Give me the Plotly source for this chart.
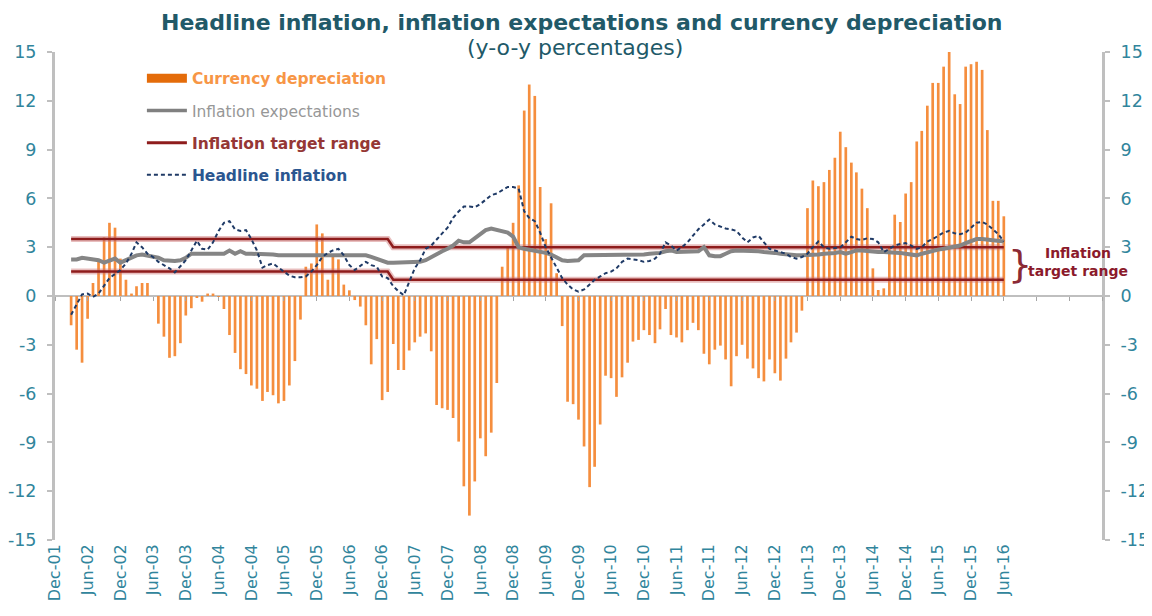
import pandas as pd
import plotly.graph_objects as go

# Monthly observations, Mar-2002 .. Jun-2016
months = pd.date_range("2002-03-01", "2016-06-01", freq="MS")

# x-axis labels every six months, Dec-01 .. Jun-16
label_dates = pd.date_range("2001-12-01", "2016-06-01", freq="6MS")
label_text = [d.strftime("%b-%y") for d in label_dates]

currency_depreciation = [
    -1.8, -3.3, -4.1, -1.4, 0.8, 2.2, 3.6, 4.5, 4.2, 2.3, 1.0, 0.15, 0.6, 0.8, 0.8, 0.0,
    -1.7, -2.5, -3.8, -3.7, -2.9, -1.2, -0.75, -0.1, -0.35, 0.15, 0.15, -0.05, -0.8, -2.4,
    -3.5, -4.5, -4.8, -5.5, -5.7, -6.45, -5.9, -6.1, -6.6, -6.45, -5.5, -4.0,
    -1.45, 1.8, 2.0, 4.4, 3.85, 1.0, 2.45, 2.25, 0.7, 0.35, -0.25, -0.65, -1.8, -4.2, -2.65,
    -6.4, -5.9, -2.95, -4.55, -4.55, -3.35, -2.85, -2.5, -2.3, -3.4, -6.7, -6.9, -7.0, -7.5,
    -8.95, -11.7, -13.5, -11.4, -8.75, -9.85, -8.4, -5.35, 1.8, 3.0, 4.5, 6.8, 11.4, 13.0,
    12.3, 6.7, 3.5, 5.7, 1.4, -1.85, -6.5,
    -6.65, -7.6, -9.25, -11.75, -10.5, -7.9, -4.9, -5.05, -6.2, -5.0, -4.1, -2.8, -2.7, -2.1,
    -2.4, -2.9, -2.05, -0.8, -2.4, -2.55, -2.85, -2.1, -1.65, -2.1, -3.55, -4.2, -3.3, -3.05,
    -3.9, -5.55, -3.7, -3.0, -3.85, -4.45, -5.05, -5.25,
    -3.9, -4.75, -5.2, -3.85, -2.85, -2.25, -0.9,
    5.4, 7.1, 6.75, 7.0, 7.75, 8.5, 10.1, 9.15, 8.2, 7.6, 6.6, 5.4, 1.7, 0.37, 0.47, 3.0,
    5.0, 4.55, 6.3, 7.0, 9.5, 10.15, 11.7, 13.1, 13.1, 14.1, 15.0, 12.4, 11.8, 14.1, 14.25,
    14.4, 13.9, 10.2, 5.85, 5.85, 4.9,
]

headline_inflation = [
    -1.15, -0.5, 0.1, 0.15, -0.05, 0.15, 0.6, 1.1, 1.35, 1.6, 2.0, 2.6, 3.3, 3.0, 2.6, 2.4,
    2.1, 1.9, 1.7, 1.45, 1.8, 2.2, 2.8, 3.4, 2.9, 2.85, 3.3, 4.0, 4.5, 4.6, 4.1, 4.0, 4.05,
    3.5, 2.8, 1.75, 1.9, 2.0, 1.75, 1.5, 1.25, 1.15,
    1.15, 1.2, 1.5, 1.9, 2.4, 2.65, 2.8, 2.9, 2.5, 1.9, 1.6, 1.85, 2.1, 1.9, 1.8, 1.2, 1.1,
    0.6, 0.3, 0.05, 0.9, 1.7, 2.2, 2.9, 3.1, 3.5, 3.85, 4.2, 4.8, 5.2, 5.5, 5.5, 5.45, 5.65,
    5.9, 6.2, 6.3, 6.5, 6.7, 6.7, 6.6, 5.2, 4.8, 4.6, 3.9, 3.0, 2.4, 1.8, 1.1, 0.7,
    0.4, 0.27, 0.4, 0.7, 1.0, 1.2, 1.4, 1.5, 1.7, 2.1, 2.3, 2.25, 2.2, 2.1, 2.15, 2.3, 2.6,
    3.3, 3.1, 2.8, 3.0, 3.3, 3.7, 4.1, 4.4, 4.7, 4.4, 4.25, 4.15, 4.1, 4.0, 3.6, 3.3, 3.6,
    3.7, 3.3,
    2.9, 2.8, 2.7, 2.6, 2.4, 2.3, 2.4, 2.6, 3.0, 3.35, 3.0, 2.9, 2.95, 3.0, 3.3, 3.65, 3.5,
    3.45, 3.55, 3.5, 3.3, 2.7, 2.9, 3.1, 3.2, 3.25, 3.1, 2.9, 3.0, 3.35, 3.5, 3.7, 3.9, 4.0,
    3.85, 3.8, 3.9, 4.2, 4.5, 4.55, 4.4, 4.1, 3.8, 3.35,
]

inflation_expectations = [
    2.25, 2.25, 2.35, 2.3, 2.3, 2.2, 2.05, 2.2, 2.3, 2.05, 2.2, 2.35, 2.5, 2.55, 2.5, 2.45,
    2.35, 2.2, 2.15, 2.15, 2.2, 2.35, 2.6, 2.6, 2.6, 2.6, 2.6, 2.65, 2.6, 2.8, 2.6, 2.75,
    2.6, 2.6, 2.6, 2.55, 2.55, 2.55, 2.5, 2.5, 2.5, 2.5,
    2.5, 2.5, 2.5, 2.5, 2.5, 2.5, 2.5, 2.5, 2.5, 2.5, 2.5, 2.5, 2.5, 2.4, 2.3, 2.15, 2.05,
    2.05, 2.05, 2.05, 2.05, 2.05, 2.1, 2.2, 2.4, 2.6, 2.75, 2.9, 3.1, 3.4, 3.3, 3.3, 3.55,
    3.75, 4.05, 4.15, 4.05, 3.95, 3.9, 3.65, 3.0, 2.9, 2.85, 2.8, 2.75, 2.65, 2.55, 2.4,
    2.2, 2.15,
    2.15, 2.2, 2.5, 2.5, 2.5, 2.5, 2.5, 2.5, 2.5, 2.5, 2.5, 2.55, 2.55, 2.55, 2.6, 2.6, 2.65,
    2.75, 2.8, 2.7, 2.7, 2.7, 2.7, 2.75, 3.0, 2.5, 2.45, 2.45, 2.6, 2.75, 2.8, 2.8, 2.8, 2.8,
    2.75, 2.7,
    2.7, 2.65, 2.6, 2.55, 2.5, 2.5, 2.5, 2.5, 2.55, 2.55, 2.6, 2.6, 2.65, 2.7, 2.6, 2.7, 2.8,
    2.8, 2.75, 2.7, 2.7, 2.7, 2.7, 2.7, 2.65, 2.6, 2.55, 2.5, 2.6, 2.7, 2.8, 2.85, 2.9, 2.95,
    3.0, 3.1, 3.25, 3.4, 3.5, 3.5, 3.45, 3.45, 3.4, 3.35,
]

# Inflation target range: 1.5-3.5 until Jan-2007, 1-3 from Feb-2007
target_upper = [3.5] * 59 + [3.0] * 113
target_lower = [1.5] * 59 + [1.0] * 113

y_ticks = [-15, -12, -9, -6, -3, 0, 3, 6, 9, 12, 15]
y_tick_text = ["-15", "-12", "-9", "-6", "-3", "0", "3", "6", "9", "12", "15"]

TEAL = "#31859C"
TITLE_TEAL = "#215968"
AXIS_GREY = "#BFBFBF"
ORANGE = "#F58E3E"
RED = "#8E1C1C"
FONT = "DejaVu Sans"

fig = go.Figure()

fig.add_trace(go.Bar(
    x=months, y=currency_depreciation, marker_color=ORANGE, marker_line_width=0,
    width=15 * 86400000, showlegend=False, hoverinfo="x+y",
))

for band in (target_upper, target_lower):
    fig.add_trace(go.Scatter(x=months, y=band, mode="lines", showlegend=False,
                             line=dict(color="rgba(205,110,110,0.45)", width=6), hoverinfo="skip"))
    fig.add_trace(go.Scatter(x=months, y=band, mode="lines", showlegend=False,
                             line=dict(color=RED, width=2.5)))

fig.add_trace(go.Scatter(x=months, y=inflation_expectations, mode="lines", showlegend=False,
                         line=dict(color="#858585", width=4)))
fig.add_trace(go.Scatter(x=months, y=headline_inflation, mode="lines", showlegend=False,
                         line=dict(color="#1F3A66", width=2, dash="4px,3px"), yaxis="y2"))

# empty trace so the tick-only axis on the zero line is drawn
fig.add_trace(go.Scatter(x=[None], y=[None], xaxis="x2", showlegend=False, hoverinfo="skip"))

# legend-only entries
legend_items = [
    ("<b><span style='color:#F79646'>Currency depreciation</span></b>", dict(color="#E46C0A", width=9)),
    ("<span style='color:#979797'>Inflation expectations</span>", dict(color="#808080", width=3.5)),
    ("<b><span style='color:#953735'>Inflation target range</span></b>", dict(color=RED, width=3)),
    ("<b><span style='color:#2B5690'>Headline inflation</span></b>", dict(color="#1F3A66", width=2, dash="4px,3px")),
]
for i, (name, line) in enumerate(legend_items):
    fig.add_trace(go.Scatter(x=[None], y=[None], mode="lines", name=name, line=line,
                             legendgroup=f"g{i}", showlegend=True))

axis_common = dict(
    range=[-15, 15], tickvals=y_ticks, ticktext=y_tick_text, showgrid=False, zeroline=False,
    automargin=False, showline=True, linecolor=AXIS_GREY, linewidth=3,
    ticks="outside", ticklen=5, tickcolor=AXIS_GREY, tickwidth=1.5,
    tickfont=dict(family=FONT, size=17.5, color=TEAL), ticklabelstandoff=7,
)

fig.update_layout(
    width=1144, height=600,
    margin=dict(l=47, r=50, t=44, b=68, autoexpand=False),
    paper_bgcolor="white", plot_bgcolor="white",
    font=dict(family=FONT),
    barmode="overlay",
    showlegend=True,
    legend=dict(x=0.083, y=0.98, xanchor="left", yanchor="top", bgcolor="rgba(0,0,0,0)",
                font=dict(family=FONT, size=15.5), traceorder="grouped", tracegroupgap=9,
                itemwidth=40),
    xaxis=dict(
        type="date", range=["2001-12-01", "2017-12-01"], automargin=False,
        tickvals=label_dates, ticktext=label_text, tickangle=-90,
        showgrid=False, zeroline=False, showline=False, ticks="",
        tickfont=dict(family=FONT, size=16, color=TEAL),
    ),
    xaxis2=dict(
        type="date", range=["2001-12-01", "2017-12-01"], overlaying="x", anchor="free",
        position=0.5, tick0="2001-12-01", dtick="M6", showticklabels=False, automargin=False,
        ticks="outside", ticklen=4, tickcolor="#A6A6A6", tickwidth=1, showgrid=False,
        showline=False, zeroline=False,
    ),
    yaxis=dict(**axis_common),
    yaxis2=dict(**axis_common, overlaying="y", side="right"),
    shapes=[dict(type="line", xref="paper", yref="y", x0=0, x1=1, y0=0, y1=0,
                 line=dict(color=AXIS_GREY, width=2), layer="below")],
    annotations=[
        dict(text="<b>Headline inflation, inflation expectations and currency depreciation</b>",
             xref="paper", yref="paper", x=0.5024, y=1.0902, xanchor="center", yanchor="top",
             showarrow=False, font=dict(family=FONT, size=22, color=TITLE_TEAL)),
        dict(text="(y-o-y percentages)", xref="paper", yref="paper", x=0.4966, y=1.0082,
             xanchor="center", yanchor="middle", showarrow=False,
             font=dict(family=FONT, size=22, color=TITLE_TEAL)),
        dict(text="}", xref="paper", yref="paper", x=0.9217, y=0.5656, xanchor="center",
             yanchor="middle", showarrow=False, font=dict(family=FONT, size=38, color="#8B2A35")),
        dict(text="<b>Inflation</b><br><b>target range</b>", xref="paper", yref="paper",
             x=0.977, y=0.5697, xanchor="center", yanchor="middle", showarrow=False,
             font=dict(family=FONT, size=14, color="#8B1A2B")),
    ],
)

fig.write_html("out.html")
